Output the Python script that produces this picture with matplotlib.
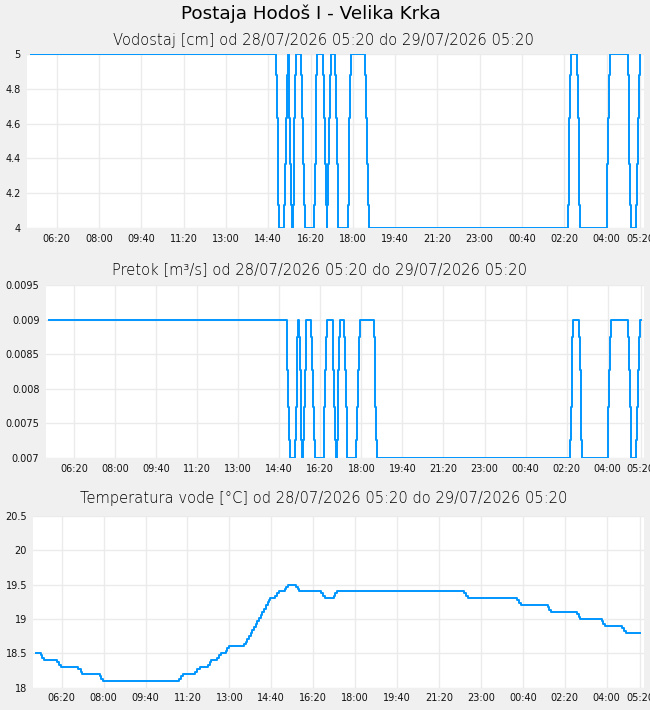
import matplotlib
matplotlib.use("Agg")
import matplotlib.pyplot as plt

# minutes after 28/07/2026 05:20, values change at these moments (step data)
level_t = [0, 578, 580, 582, 584, 586,
           598, 600, 602, 604, 606,
           608, 610, 612, 614, 616,
           618, 620, 622, 624, 626,
           638, 640, 642, 644, 646,
           668, 670, 672, 674, 676,
           690, 692, 694, 696, 698,
           700, 702, 704, 706, 708,
           718, 720, 722, 724, 726,
           748, 750, 752, 754, 756,
           790, 792, 794, 796, 798,
           1268, 1270, 1272, 1274, 1276,
           1290, 1292, 1294, 1296, 1298,
           1360, 1362, 1364, 1366, 1368,
           1410, 1412, 1414, 1416, 1418,
           1430, 1432, 1434, 1436, 1438, 1440]
level_v = [5, 4.88, 4.63, 4.37, 4.13, 4,
           4.13, 4.37, 4.63, 4.88, 5,
           4.88, 4.63, 4.37, 4.13, 4,
           4.13, 4.37, 4.63, 4.88, 5,
           4.88, 4.63, 4.37, 4.13, 4,
           4.13, 4.37, 4.63, 4.88, 5,
           4.88, 4.63, 4.37, 4.13, 4,
           4.13, 4.37, 4.63, 4.88, 5,
           4.88, 4.63, 4.37, 4.13, 4,
           4.13, 4.37, 4.63, 4.88, 5,
           4.88, 4.63, 4.37, 4.13, 4,
           4.13, 4.37, 4.63, 4.88, 5,
           4.88, 4.63, 4.37, 4.13, 4,
           4.13, 4.37, 4.63, 4.88, 5,
           4.88, 4.63, 4.37, 4.13, 4,
           4.13, 4.37, 4.63, 4.88, 5, 5]
flow_v = [0.009, 0.00875, 0.00827, 0.00774, 0.00726, 0.007,
          0.00726, 0.00774, 0.00827, 0.00875, 0.009,
          0.00875, 0.00827, 0.00774, 0.00726, 0.007,
          0.00726, 0.00774, 0.00827, 0.00875, 0.009,
          0.00875, 0.00827, 0.00774, 0.00726, 0.007,
          0.00726, 0.00774, 0.00827, 0.00875, 0.009,
          0.00875, 0.00827, 0.00774, 0.00726, 0.007,
          0.00726, 0.00774, 0.00827, 0.00875, 0.009,
          0.00875, 0.00827, 0.00774, 0.00726, 0.007,
          0.00726, 0.00774, 0.00827, 0.00875, 0.009,
          0.00875, 0.00827, 0.00774, 0.00726, 0.007,
          0.00726, 0.00774, 0.00827, 0.00875, 0.009,
          0.00875, 0.00827, 0.00774, 0.00726, 0.007,
          0.00726, 0.00774, 0.00827, 0.00875, 0.009,
          0.00875, 0.00827, 0.00774, 0.00726, 0.007,
          0.00726, 0.00774, 0.00827, 0.00875, 0.009, 0.009]

temp_t = [0, 10, 14, 18, 50, 54, 58, 100, 105, 109, 151, 155, 159,
          339, 344, 349, 379, 384, 389, 409, 413, 417, 430, 435, 439,
          451, 455, 459,
          491, 495, 499, 503, 507, 511, 515, 519, 523, 527, 531, 535,
          539, 543, 547, 551, 555, 558,
          570, 574, 578, 592, 596, 600, 620, 624, 627,
          679, 683, 687, 709, 713, 717,
          1019, 1024, 1028, 1147, 1151, 1155, 1219, 1223, 1227,
          1289, 1293, 1296, 1348, 1352, 1355, 1397, 1402, 1407, 1440]
temp_v = [18.5, 18.47, 18.43, 18.4, 18.37, 18.33, 18.3, 18.27, 18.23, 18.2,
          18.17, 18.13, 18.1,
          18.13, 18.17, 18.2, 18.23, 18.27, 18.3, 18.33, 18.37, 18.4,
          18.43, 18.47, 18.5, 18.53, 18.57, 18.6,
          18.6, 18.63, 18.67, 18.71, 18.75, 18.79, 18.84, 18.88, 18.93,
          18.97, 19.01, 19.05, 19.1, 19.15, 19.2, 19.24, 19.28, 19.3,
          19.33, 19.37, 19.4, 19.43, 19.47, 19.5, 19.47, 19.43, 19.4,
          19.37, 19.33, 19.3, 19.33, 19.37, 19.4,
          19.37, 19.33, 19.3, 19.27, 19.23, 19.2, 19.17, 19.13, 19.1,
          19.07, 19.03, 19.0, 18.97, 18.93, 18.9, 18.87, 18.83, 18.8, 18.8]

xtick_labels = ["06:20", "08:00", "09:40", "11:20", "13:00", "14:40", "16:20",
                "18:00", "19:40", "21:20", "23:00", "00:40", "02:20", "04:00",
                "05:20"]

level_ticks = [4, 4.2, 4.4, 4.6, 4.8, 5]
level_tlabels = ["4", "4.2", "4.4", "4.6", "4.8", "5"]
flow_ticks = [0.007, 0.0075, 0.008, 0.0085, 0.009, 0.0095]
flow_tlabels = ["0.007", "0.0075", "0.008", "0.0085", "0.009", "0.0095"]
temp_ticks = [18, 18.5, 19, 19.5, 20, 20.5]
temp_tlabels = ["18", "18.5", "19", "19.5", "20", "20.5"]


def label_to_min(s):
    h, m = s.split(":")
    v = (int(h) * 60 + int(m) - 320) % 1440
    return v if v > 0 else 1440


xticks = [label_to_min(s) for s in xtick_labels]

W, H = 650, 710
BLUE = "#0096ff"
fig = plt.figure(figsize=(W / 100, H / 100), dpi=100, facecolor="#f0f0f0")


def make_axes(l, t, r, b):
    return fig.add_axes([l / W, 1 - b / H, (r - l) / W, (b - t) / H])


def style(ax, xlim, yticks, ylabels):
    ax.set_facecolor("white")
    for s in ax.spines.values():
        s.set_visible(False)
    ax.set_xlim(*xlim)
    ax.set_ylim(yticks[0], yticks[-1])
    ax.set_xticks(xticks)
    ax.set_xticklabels(xtick_labels)
    ax.set_yticks(yticks)
    ax.set_yticklabels(ylabels)
    ax.tick_params(length=0, labelsize=7, colors="#111111")
    ax.tick_params(axis="x", pad=4)
    ax.tick_params(axis="y", pad=4.5)
    ax.grid(True, color="#ebebeb", lw=1)
    ax.set_axisbelow(True)


ax1 = make_axes(26.7, 54, 644, 228)
style(ax1, (-11, 1448.5), level_ticks, level_tlabels)
ax1.plot(level_t, level_v, drawstyle="steps-post", color=BLUE, lw=1.4)

ax2 = make_axes(45.7, 285, 644, 458)
style(ax2, (-9, 1448.5), flow_ticks, flow_tlabels)
ax2.plot(level_t, flow_v, drawstyle="steps-post", color=BLUE, lw=1.4)

ax3 = make_axes(33.3, 515.7, 643.5, 687.7)
style(ax3, (-7.6, 1447.7), temp_ticks, temp_tlabels)
ax3.plot(temp_t, temp_v, drawstyle="steps-post", color=BLUE, lw=1.4)

fig.text(311 / W, 1 - 14 / H, "Postaja Hodoš I - Velika Krka", ha="center",
         va="center", fontsize=13.2, color="black")
sub = dict(ha="center", va="center", fontsize=10.6, color="black",
           fontweight="light")
fig.text(323 / W, 1 - 40 / H,
         "Vodostaj [cm] od 28/07/2026 05:20 do 29/07/2026 05:20", **sub)
fig.text(320 / W, 1 - 270 / H,
         "Pretok [m³/s] od 28/07/2026 05:20 do 29/07/2026 05:20", **sub)
fig.text(324 / W, 1 - 499 / H,
         "Temperatura vode [°C] od 28/07/2026 05:20 do 29/07/2026 05:20", **sub)

fig.savefig("out.png", dpi=100, facecolor=fig.get_facecolor())
